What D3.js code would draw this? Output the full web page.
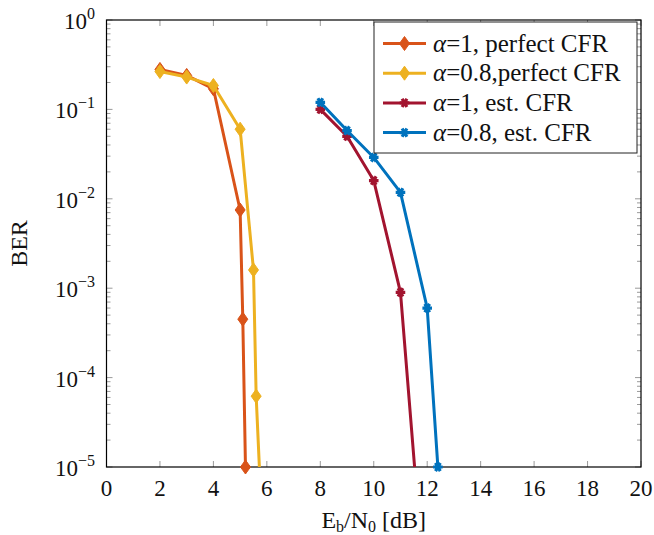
<!DOCTYPE html>
<html><head><meta charset="utf-8">
<script src="https://cdn.jsdelivr.net/npm/d3@7"></script>
<style>body{margin:0;background:#fff}svg{display:block}</style>
</head><body>
<svg id="c" width="654" height="535"></svg>
<script>
const seriesNames = ["α=1, perfect CFR", "α=0.8,perfect CFR", "α=1, est. CFR", "α=0.8, est. CFR"];
const s1x = [2, 3, 4, 5, 5.1, 5.2];
const s1y = [0.28, 0.24, 0.17, 0.0075, 0.00045, 0.00001];
const s2x = [2, 3, 4, 5, 5.5, 5.6, 5.8];
const s2y = [0.265, 0.23, 0.185, 0.06, 0.0016, 0.000062, 0.000003];
const s3x = [8, 9, 10, 11, 12];
const s3y = [0.1, 0.05, 0.016, 0.0009, 0.00000018];
const s4x = [8, 9, 10, 11, 12, 12.4];
const s4y = [0.12, 0.058, 0.029, 0.0118, 0.0006, 0.00001];
const xTicks = [0, 2, 4, 6, 8, 10, 12, 14, 16, 18, 20];
const yTickExp = [0, -1, -2, -3, -4, -5];
const colors = ["#D95319", "#EDB120", "#A2142F", "#0072BD"];
const markers = ["diamond", "diamond", "star", "star"];

const FONT = "'Liberation Serif', 'Times New Roman', serif";
const L = 106.5, R = 641, T = 20, B = 467;
const svg = d3.select("#c");
const x = d3.scaleLinear().domain([0, 20]).range([L, R]);
const y = d3.scaleLog().domain([1e-5, 1]).range([B, T]);
function txt(sel, size) { return sel.append("text").style("font-family", FONT).style("font-size", size + "px").style("fill", "#111"); }

const tickColor = "#9a9a9a";
const g = svg.append("g");
xTicks.forEach(v => {
  g.append("line").attr("x1", x(v)).attr("x2", x(v)).attr("y1", B).attr("y2", B - 6).attr("stroke", tickColor);
  g.append("line").attr("x1", x(v)).attr("x2", x(v)).attr("y1", T).attr("y2", T + 6).attr("stroke", tickColor);
  txt(g, 23).attr("x", x(v)).attr("y", B + 29).attr("text-anchor", "middle").text(v);
});
for (let e = -5; e <= 0; e++) {
  const base = Math.pow(10, e);
  [L, R].forEach((xx, i) => {
    const dir = i === 0 ? 1 : -1;
    g.append("line").attr("x1", xx).attr("x2", xx + dir * 6).attr("y1", y(base)).attr("y2", y(base)).attr("stroke", tickColor);
    if (e < 0) for (let m = 2; m <= 9; m++) {
      const yy = y(base * m);
      g.append("line").attr("x1", xx).attr("x2", xx + dir * 4).attr("y1", yy).attr("y2", yy).attr("stroke", tickColor);
    }
  });
}
yTickExp.forEach(e => {
  const t = txt(g, 23).attr("x", 95).attr("y", y(Math.pow(10, e)) + 9).attr("text-anchor", "end");
  t.append("tspan").text("10");
  t.append("tspan").attr("dy", -10).style("font-size", "16px").text(e === 0 ? "0" : "−" + (-e));
});

svg.append("rect").attr("x", L).attr("y", T).attr("width", R - L).attr("height", B - T).attr("fill", "none").attr("stroke", "#000").attr("stroke-width", 1.2);

svg.append("clipPath").attr("id", "clip").append("rect").attr("x", L).attr("y", T - 10).attr("width", R - L).attr("height", B - T + 18);
svg.append("clipPath").attr("id", "clipL").append("rect").attr("x", L).attr("y", T).attr("width", R - L).attr("height", B - T);

const diamond = (s) => `M0,${-7*s}L${5*s},0L0,${7*s}L${-5*s},0Z`;
function drawMarker(sel, type, color, cx, cy) {
  if (type === "diamond") {
    sel.append("path").attr("d", diamond(1)).attr("transform", `translate(${cx},${cy})`).attr("fill", color).attr("stroke", color).attr("stroke-width", 1);
  } else {
    sel.append("path").attr("d", d3.symbol(d3.symbolAsterisk, 64)()).attr("transform", `translate(${cx},${cy}) rotate(90)`).attr("fill", "none").attr("stroke", color).attr("stroke-width", 3.2);
  }
}

const allX = [s1x, s2x, s3x, s4x], allY = [s1y, s2y, s3y, s4y];
const line = d3.line().x(d => x(d[0])).y(d => y(d[1]));
allX.forEach((xs, i) => {
  const pts = xs.map((v, j) => [v, allY[i][j]]);
  const gs = svg.append("g");
  gs.append("path").attr("d", line(pts)).attr("fill", "none").attr("stroke", colors[i]).attr("stroke-width", 3).attr("stroke-linejoin", "round").attr("clip-path", "url(#clipL)");
  const gm = gs.append("g").attr("clip-path", "url(#clip)");
  pts.forEach(p => { if (p[1] >= 1e-5) drawMarker(gm, markers[i], colors[i], x(p[0]), y(p[1])); });
});

const lg = svg.append("g");
lg.append("rect").attr("x", 374).attr("y", 22).attr("width", 263).attr("height", 131).attr("fill", "#fff").attr("stroke", "#222").attr("stroke-width", 1);
seriesNames.forEach((n, i) => {
  const yy = 43.5 + i * 29.7;
  lg.append("line").attr("x1", 383).attr("x2", 426).attr("y1", yy).attr("y2", yy).attr("stroke", colors[i]).attr("stroke-width", 3);
  drawMarker(lg, markers[i], colors[i], 404.5, yy);
  const t = txt(lg, 25).attr("x", 433).attr("y", yy + 8);
  t.append("tspan").style("font-style", "italic").text(n[0]);
  t.append("tspan").text(n.slice(1));
});

txt(svg, 24).attr("transform", `translate(27,${(T + B) / 2}) rotate(-90)`).attr("text-anchor", "middle").text("BER");
const xl = txt(svg, 24).attr("x", (L + R) / 2).attr("y", 528).attr("text-anchor", "middle");
xl.append("tspan").text("E");
xl.append("tspan").attr("dy", 4).style("font-size", "16px").text("b");
xl.append("tspan").attr("dy", -4).text("/N");
xl.append("tspan").attr("dy", 4).style("font-size", "16px").text("0");
xl.append("tspan").attr("dy", -4).text(" [dB]");
</script>
</body></html>
